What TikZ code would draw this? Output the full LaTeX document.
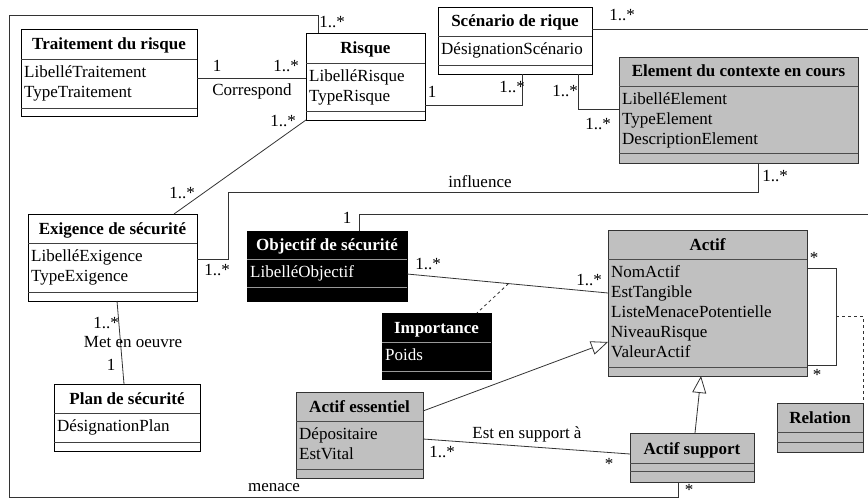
\documentclass[tikz,border=0pt]{standalone}
\usepackage{fontspec}
\setmainfont{Liberation Serif}
\usetikzlibrary{arrows.meta,calc}
\definecolor{clsgray}{HTML}{C0C0C0}
\definecolor{linegray}{HTML}{333333}
\newcommand\clsbox[9]{%
  \node[#8,minimum width=#4pt-#2pt,minimum height=#5pt-#3pt,anchor=north west] (#1) at (#2,#3) {};
  \draw[#9] (#2,#6) -- (#4,#6) (#2,#7) -- (#4,#7);
}
\tikzset{
  clsbase/.style={draw,line width=0.9pt,inner sep=0pt,outer sep=0pt,rectangle},
  wbox/.style={clsbase,draw=black,fill=white},
  gbox/.style={clsbase,draw=black!80,fill=clsgray},
  bbox/.style={clsbase,draw=black,fill=black},
  wsep/.style={line width=0.9pt,draw=black!75},
  gsep/.style={line width=0.9pt,draw=black!70},
  bsep/.style={line width=0.9pt,draw=black!40},
  ttl/.style={font=\fontsize{17}{20}\selectfont\bfseries,anchor=base,inner sep=0pt},
  attr/.style={font=\fontsize{17}{20}\selectfont,anchor=north west,align=left,inner sep=0pt},
  lbl/.style={font=\fontsize{17}{20}\selectfont,anchor=base,inner sep=0pt},
  conn/.style={line width=0.8pt,draw=linegray},
  dconn/.style={line width=0.8pt,draw=linegray,dash pattern=on 3pt off 3pt},
  gen/.style={-{Triangle[open,length=17pt,width=14pt,line width=0.8pt]}},
}
\begin{document}
\begin{tikzpicture}[x=1pt,y=-1pt]
\useasboundingbox (0,0) rectangle (868,500);
\coordinate (mA) at (9,497);
\coordinate (mB) at (9,15);
\coordinate (infA) at (228,192);
\coordinate (scenR) at (868,29);
\coordinate (objR) at (868,214);
\coordinate (loopM) at (836,316);
% ---------- boxes ----------
\clsbox{trait}{21}{29}{197}{116}{59}{108}{wbox}{wsep}
\clsbox{risque}{306}{33}{425}{120}{63}{111}{wbox}{wsep}
\clsbox{scen}{438}{7}{592}{74}{36}{65}{wbox}{wsep}
\clsbox{elem}{619}{57}{858}{163}{86}{153}{gbox}{gsep}
\clsbox{exig}{28}{214}{197}{301}{243}{292}{wbox}{wsep}
\clsbox{plan}{54}{384}{200}{451}{413}{442}{wbox}{wsep}
\clsbox{obj}{247}{231}{407}{301}{259}{287}{bbox}{bsep}
\clsbox{imp}{382}{313}{491}{379}{342}{371}{bbox}{bsep}
\clsbox{actif}{608}{230}{807}{376}{259}{367}{gbox}{gsep}
\clsbox{relation}{777}{403}{863}{452}{432}{442}{gbox}{gsep}
\clsbox{ess}{296}{392}{423}{478}{421}{469}{gbox}{gsep}
\clsbox{sup}{630}{433}{754}{482}{463}{471}{gbox}{gsep}
% titles
\node[ttl] (trait-t) at ({(21+197)/2},49.5) {Traitement du risque};
\node[ttl] (risque-t) at ({(306+425)/2},53.5) {Risque};
\node[ttl] (scen-t) at ({(438+592)/2},27) {Scénario de rique};
\node[ttl] (elem-t) at ({(619+858)/2},77) {Element du contexte en cours};
\node[ttl] (exig-t) at ({(28+197)/2},234) {Exigence de sécurité};
\node[ttl] (plan-t) at ({(54+200)/2},404) {Plan de sécurité};
\node[ttl,text=white] (obj-t) at ({(247+407)/2},250.5) {Objectif de sécurité};
\node[ttl,text=white] (imp-t) at ({(382+491)/2},333) {Importance};
\node[ttl] (actif-t) at ({(608+807)/2},250) {Actif};
\node[ttl] (relation-t) at ({(777+863)/2},423) {Relation};
\node[ttl] (ess-t) at ({(296+423)/2},412) {Actif essentiel};
\node[ttl] (sup-t) at ({(630+754)/2},454) {Actif support};
% attributes
\node[attr] (trait-a) at (24,63) {\strut LibelléTraitement\\\strut TypeTraitement};
\node[attr] (risque-a) at (309,67) {\strut LibelléRisque\\\strut TypeRisque};
\node[attr] (scen-a) at (441,40) {\strut DésignationScénario};
\node[attr] (elem-a) at (622,90) {\strut LibelléElement\\\strut TypeElement\\\strut DescriptionElement};
\node[attr] (exig-a) at (31,247) {\strut LibelléExigence\\\strut TypeExigence};
\node[attr] (plan-a) at (57,417) {\strut DésignationPlan};
\node[attr,text=white] (obj-a) at (250,263) {\strut LibelléObjectif};
\node[attr,text=white] (imp-a) at (385,346) {\strut Poids};
\node[attr] (actif-a) at (611,263) {\strut NomActif\\\strut EstTangible\\\strut ListeMenacePotentielle\\\strut NiveauRisque\\\strut ValeurActif};
\node[attr] (ess-a) at (299,425) {\strut Dépositaire\\\strut EstVital};
% ---------- connectors ----------
\draw[conn] ([yshift=-49pt]trait.north east) -- ([yshift=-45pt]risque.north west);
\draw[conn] ([yshift=-72pt]risque.north east) -| ([xshift=84pt]scen.south west);
\draw[conn] ([xshift=140pt]scen.south west) |- ([yshift=-52pt]elem.north west);
\draw[conn] ([yshift=-22pt]scen.north east) -- (scenR);
\draw[conn] ([xshift=139pt]elem.south west) |- (infA) |- ([yshift=-45pt]exig.north east);
\draw[conn] (risque.south west) -- ([xshift=146pt]exig.north west);
\draw[conn] ([xshift=89pt]exig.south west) -- ([xshift=70pt]plan.north west);
\draw[conn] ([xshift=112pt]obj.north west) |- (objR);
\draw[conn] ([yshift=-43pt]obj.north east) -- coordinate[pos=0.505] (assoc) ([yshift=-63pt]actif.north west);
\draw[dconn] (assoc) -- ([xshift=95pt]imp.north west);
\draw[conn] ([yshift=-38pt]actif.north east) -- ++(29pt,0) |- ([yshift=-135pt]actif.north east);
\draw[dconn] (loopM) -| (relation.north east);
\draw[conn,gen] ([yshift=-19pt]ess.north east) -- ([yshift=-112pt]actif.north west);
\draw[conn,gen] ([xshift=65pt]sup.north west) -- ([xshift=93pt]actif.south west);
\draw[conn] ([yshift=-47pt]ess.north east) -- ([yshift=-21pt]sup.north west);
\draw[conn] ([xshift=48pt]sup.south west) |- (mA) -- (mB) -| ([xshift=12pt]risque.north west);
% ---------- labels ----------
\node[lbl] (l1) at (217,72) {1};
\node[lbl] (l2) at (286,72) {1..*};
\node[lbl] (l3) at (252,96) {Correspond};
\node[lbl] (l4) at (432,98) {1};
\node[lbl] (l5) at (512,93) {1..*};
\node[lbl] (l6) at (565,97) {1..*};
\node[lbl] (l7) at (598,130) {1..*};
\node[lbl] (l8) at (622,21) {1..*};
\node[lbl] (l9) at (332,28) {1..*};
\node[lbl] (l10) at (480,188) {influence};
\node[lbl] (l11) at (775,182) {1..*};
\node[lbl] (l12) at (217,275) {1..*};
\node[lbl] (l13) at (283,127) {1..*};
\node[lbl] (l14) at (182,198) {1..*};
\node[lbl] (l15) at (106,328) {1..*};
\node[lbl] (l16) at (133,347) {Met en oeuvre};
\node[lbl] (l17) at (111,370) {1};
\node[lbl] (l18) at (347,223) {1};
\node[lbl] (l19) at (428,269) {1..*};
\node[lbl] (l20) at (589,285) {1..*};
\node[lbl] (l21) at (814,263) {*};
\node[lbl] (l22) at (817,380) {*};
\node[lbl] (l23) at (527,438) {Est en support à};
\node[lbl] (l24) at (442,457) {1..*};
\node[lbl] (l25) at (609,469) {*};
\node[lbl] (l26) at (274,491) {menace};
\node[lbl] (l27) at (689,495) {*};
\end{tikzpicture}
\end{document}
